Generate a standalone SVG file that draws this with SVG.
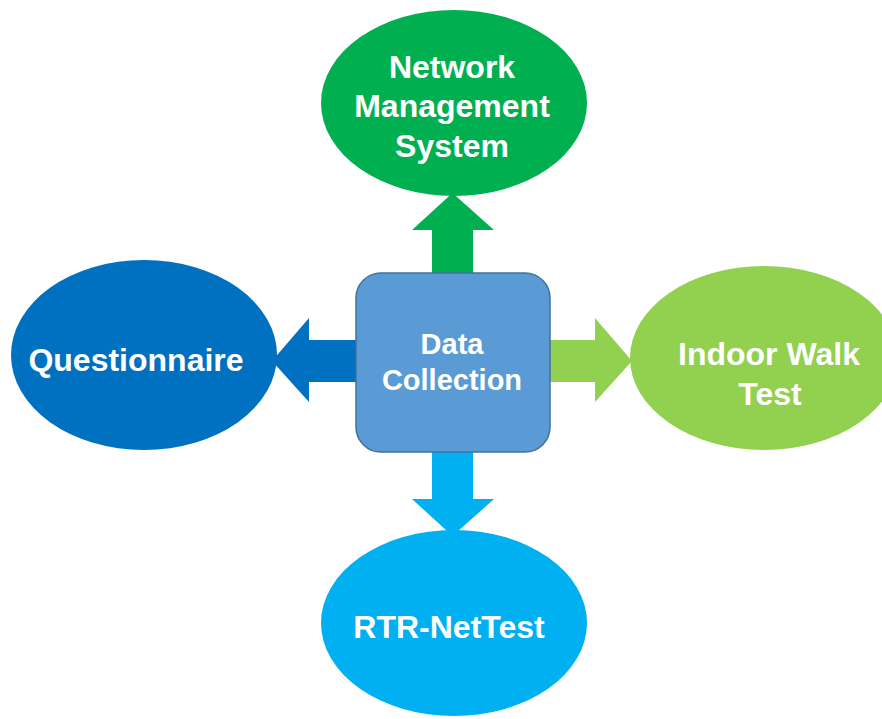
<svg xmlns="http://www.w3.org/2000/svg" width="882" height="719" viewBox="0 0 882 719">
<style>
.lbl{font-family:"Liberation Sans",Arial,sans-serif;font-weight:bold;fill:#ffffff;text-anchor:middle;font-size:32px}
.lbl2{font-family:"Liberation Sans",Arial,sans-serif;font-weight:bold;fill:#ffffff;text-anchor:middle;font-size:29px}
</style>
<rect width="882" height="719" fill="#ffffff"/>
<g id="nms">
<ellipse cx="454" cy="103" rx="133" ry="93" fill="#00B050"/>
<text class="lbl" x="452" y="78">Network</text>
<text class="lbl" x="452" y="117">Management</text>
<text class="lbl" x="452" y="157">System</text>
</g>
<g id="questionnaire">
<ellipse cx="144" cy="355" rx="133" ry="95" fill="#0070C0"/>
<text class="lbl" x="136" y="371">Questionnaire</text>
</g>
<g id="indoor">
<ellipse cx="764" cy="358" rx="134" ry="92" fill="#92D050"/>
<text class="lbl" x="769" y="365">Indoor Walk</text>
<text class="lbl" x="770" y="405">Test</text>
</g>
<g id="rtr">
<ellipse cx="454" cy="623" rx="133" ry="93" fill="#00B0F0"/>
<text class="lbl" x="449" y="638">RTR-NetTest</text>
</g>
<g id="connectors">
<polygon points="432,280 432,230 412,230 452.5,193 494,230 473,230 473,280" fill="#00B050"/>
<polygon points="432,448 432,499 412,499 452.5,536 494,499 473,499 473,448" fill="#00B0F0"/>
<polygon points="360,340 309,340 309,318 272,361 309,402 309,382 360,382" fill="#0070C0"/>
<polygon points="546,340 595,340 595,318 632,361 595,402 595,382 546,382" fill="#92D050"/>
</g>
<g id="data-collection">
<rect x="356" y="273" width="194" height="179" rx="25" ry="25" fill="#5B9BD5" stroke="#41719C" stroke-width="1.5"/>
<text class="lbl2" x="452" y="354">Data</text>
<text class="lbl2" x="452" y="390">Collection</text>
</g>
</svg>
